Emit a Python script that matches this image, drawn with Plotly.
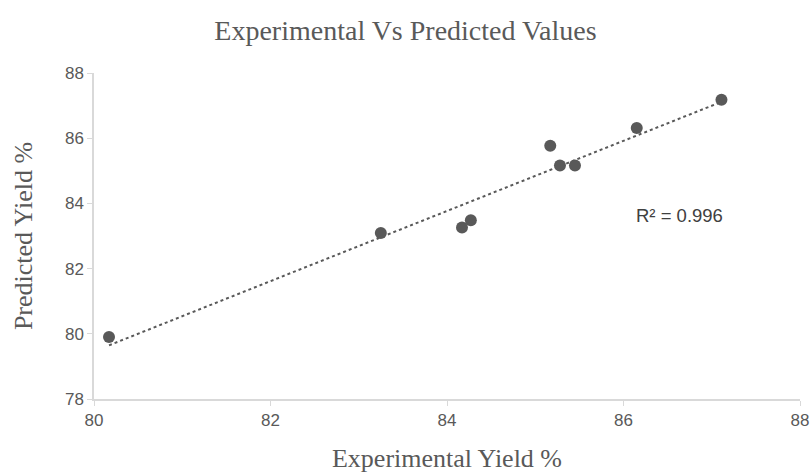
import numpy as np
import plotly.graph_objects as go

experimental = [80.17, 83.25, 84.17, 84.27, 85.17, 85.28, 85.45, 86.15, 87.11]
predicted = [79.90, 83.09, 83.26, 83.48, 85.77, 85.16, 85.16, 86.31, 87.18]
r2_label = "R² = 0.996"
x_ticks = [80, 82, 84, 86, 88]
y_ticks = [78, 80, 82, 84, 86, 88]

slope, intercept = np.polyfit(experimental, predicted, 1)
tx = np.array([min(experimental), max(experimental)])
ty = slope * tx + intercept

fig = go.Figure()
fig.add_trace(go.Scatter(x=tx, y=ty, mode="lines",
                         line=dict(color="#595959", width=2, dash="dot"),
                         showlegend=False, hoverinfo="skip"))
fig.add_trace(go.Scatter(x=experimental, y=predicted, mode="markers",
                         marker=dict(color="#595959", size=12),
                         showlegend=False))

fig.add_annotation(x=86.64, y=83.62, text=r2_label, showarrow=False,
                   font=dict(family="Liberation Sans", size=18.5, color="#404040"),
                   xanchor="center", yanchor="middle")

tickfont = dict(family="Liberation Sans", size=17, color="#595959")
titlefont = dict(family="Liberation Serif", size=26, color="#595959")

fig.update_layout(
    width=811, height=473,
    margin=dict(l=94, r=11, t=73, b=74),
    paper_bgcolor="white", plot_bgcolor="white",
    title=dict(text="Experimental Vs Predicted Values", x=0.5, xanchor="center",
               y=1 - 30 / 473, yanchor="middle",
               font=dict(family="Liberation Serif", size=28, color="#595959")),
    xaxis=dict(range=[80, 88], tickvals=x_ticks, showgrid=False, zeroline=False,
               showline=True, linecolor="#d9d9d9", linewidth=1.5,
               ticks="outside", tickcolor="#d9d9d9", ticklen=5,
               ticklabeloverflow="allow", automargin=False,
               tickfont=tickfont,
               title=dict(text="Experimental Yield %", standoff=24, font=titlefont)),
    yaxis=dict(range=[78, 88], tickvals=y_ticks, showgrid=False, zeroline=False,
               showline=True, linecolor="#d9d9d9", linewidth=1.5,
               ticks="outside", tickcolor="#d9d9d9", ticklen=5,
               ticklabeloverflow="allow", automargin=False,
               tickfont=tickfont,
               title=dict(text="Predicted Yield %", standoff=25, font=titlefont)),
)

fig.write_html("out.html")
